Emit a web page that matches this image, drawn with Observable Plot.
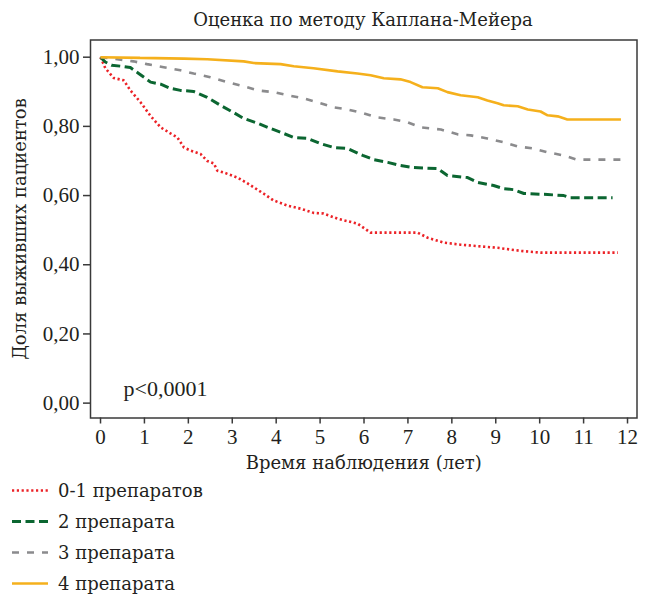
<!DOCTYPE html>
<html>
<head>
<meta charset="utf-8">
<script src="https://cdn.jsdelivr.net/npm/d3@7"></script>
<script src="https://cdn.jsdelivr.net/npm/@observablehq/plot@0.6"></script>
<style>
  body { margin: 0; background: #fff; }
  #wrap { position: relative; width: 653px; height: 596px; font-family: "DejaVu Serif", serif; color: #231f20; }
  #title { position: absolute; left: 90px; width: 546px; top: 7px; text-align: center; font-size: 18px; line-height: 26px; }
  #chart { position: absolute; left: 0; top: 30px; }
  #legend { position: absolute; left: 0; top: 474.5px; }
  .row { height: 31px; display: flex; align-items: center; font-size: 18px; }
  .row svg { display: block; }
  .row span { margin-left: 10px; }
</style>
</head>
<body>
<div id="wrap">
  <div id="title"></div>
  <div id="chart"></div>
  <div id="legend"></div>
</div>
<script>
const titleText = "Оценка по методу Каплана-Мейера";
const xTitle = "Время наблюдения (лет)";
const yTitle = "Доля выживших пациентов";
const pText = "p<0,0001";
const xTicks = [0, 1, 2, 3, 4, 5, 6, 7, 8, 9, 10, 11, 12];
const yTicks = [0, 0.2, 0.4, 0.6, 0.8, 1.0];

const seriesNames = ["0-1 препаратов", "2 препарата", "3 препарата", "4 препарата"];
const seriesColors = ["#ec2227", "#0b6631", "#8b8b8d", "#f5b01c"];
const seriesDash = ["2.2,2.6", "9,4.5", "7,8", null];
const seriesWidth = [2.6, 3, 2.6, 2.6];

const t01 = [0, 0.11, 0.3, 0.53, 0.68, 0.91, 1.14, 1.37, 1.59, 1.75, 1.9, 2.05, 2.28, 2.43, 2.58, 2.66, 2.8, 3.12, 3.35, 3.71, 3.94, 4.26, 4.56, 4.85, 5.08, 5.4, 5.85, 6.15, 7.22, 7.45, 7.82, 8.2, 9.04, 9.57, 10.02, 11.78];
const s01 = [1, 0.968, 0.94, 0.933, 0.904, 0.87, 0.83, 0.797, 0.78, 0.768, 0.739, 0.73, 0.72, 0.70, 0.693, 0.672, 0.667, 0.652, 0.635, 0.606, 0.586, 0.571, 0.562, 0.55, 0.548, 0.533, 0.519, 0.493, 0.493, 0.478, 0.464, 0.458, 0.449, 0.44, 0.435, 0.435];

const t2 = [0, 0.11, 0.25, 0.46, 0.68, 0.87, 1.14, 1.37, 1.59, 1.82, 2.12, 2.43, 2.73, 3.03, 3.26, 3.58, 3.87, 4.1, 4.4, 4.72, 5.01, 5.31, 5.63, 5.97, 6.22, 6.54, 6.83, 7.13, 7.68, 7.9, 8.36, 8.59, 8.95, 9.18, 9.41, 9.64, 10.18, 10.55, 10.7, 11.66];
const s2 = [1, 0.986, 0.977, 0.974, 0.97, 0.953, 0.928, 0.922, 0.91, 0.904, 0.901, 0.884, 0.861, 0.84, 0.823, 0.809, 0.794, 0.783, 0.768, 0.765, 0.75, 0.739, 0.736, 0.716, 0.704, 0.696, 0.687, 0.681, 0.678, 0.658, 0.652, 0.638, 0.629, 0.62, 0.617, 0.606, 0.603, 0.60, 0.594, 0.594];

const t3 = [0, 0.38, 0.75, 1.06, 1.44, 1.82, 2.12, 2.5, 2.89, 3.26, 3.58, 3.94, 4.26, 4.62, 5.01, 5.31, 5.62, 5.99, 6.3, 6.68, 6.99, 7.29, 7.75, 8.13, 8.43, 8.81, 9.18, 9.5, 9.86, 10.18, 10.55, 10.84, 11.89];
const s3 = [1, 0.994, 0.988, 0.98, 0.971, 0.962, 0.953, 0.942, 0.928, 0.916, 0.904, 0.899, 0.89, 0.881, 0.867, 0.855, 0.849, 0.838, 0.826, 0.82, 0.812, 0.797, 0.791, 0.777, 0.774, 0.765, 0.754, 0.742, 0.736, 0.725, 0.716, 0.704, 0.704];

const t4 = [0, 0.9, 1.9, 2.43, 3.26, 3.49, 4.1, 4.4, 4.85, 5.4, 5.85, 6.15, 6.45, 6.83, 7.06, 7.33, 7.68, 7.9, 8.2, 8.59, 8.81, 9.04, 9.18, 9.5, 9.73, 10.02, 10.18, 10.41, 10.63, 11.85];
const s4 = [1, 0.998, 0.996, 0.994, 0.988, 0.983, 0.98, 0.974, 0.968, 0.959, 0.953, 0.948, 0.939, 0.936, 0.928, 0.913, 0.91, 0.899, 0.89, 0.884, 0.875, 0.867, 0.861, 0.858, 0.849, 0.843, 0.832, 0.829, 0.82, 0.82];

const seriesT = [t01, t2, t3, t4];
const seriesS = [s01, s2, s3, s4];

const LATIN = "'Liberation Serif', serif";
const CYR = "'DejaVu Serif', serif";

document.getElementById("title").textContent = titleText;

const fmt = d => d.toFixed(2).replace(".", ",");

const lineMarks = seriesNames.map((name, i) => {
  const rows = seriesT[i].map((t, j) => ({t, s: seriesS[i][j]}));
  return Plot.line(rows, {
    x: "t", y: "s",
    stroke: seriesColors[i],
    strokeWidth: seriesWidth[i],
    strokeDasharray: seriesDash[i] || undefined,
    strokeLinecap: "butt",
    strokeLinejoin: "miter"
  });
});

const chart = Plot.plot({
  width: 653,
  height: 450,
  marginTop: 9.5,
  marginBottom: 62.5,
  marginLeft: 90,
  marginRight: 16.5,
  style: { fontFamily: LATIN, fontSize: "21px", color: "#231f20", background: "white", overflow: "visible" },
  x: { domain: [-0.228, 12.216] },
  y: { domain: [-0.043, 1.0497] },
  marks: [
    Plot.frame({ stroke: "#3a3a3a", strokeWidth: 1.5 }),
    Plot.axisX({ ticks: xTicks, tickSize: 6, tickPadding: 5, tickFormat: d => String(d), label: null, stroke: "#3a3a3a", strokeWidth: 1.5 }),
    Plot.axisX({ ticks: [], label: xTitle, labelAnchor: "center", labelOffset: 51, labelArrow: false, fontSize: 18, fontFamily: CYR }),
    Plot.axisY({ ticks: yTicks, tickSize: 7, tickPadding: 4, tickFormat: fmt, label: null, stroke: "#3a3a3a", strokeWidth: 1.5 }),
    Plot.axisY({ ticks: [], label: yTitle, labelAnchor: "center", labelOffset: 77, labelArrow: false, fontSize: 18, fontFamily: CYR }),
    ...lineMarks,
    Plot.text([pText], { frameAnchor: "bottom-left", dx: 33, dy: -29, textAnchor: "start", lineAnchor: "middle", fontSize: 22, fill: "#231f20" })
  ]
});
document.getElementById("chart").appendChild(chart);

const legend = d3.select("#legend");
seriesNames.forEach((name, i) => {
  const row = legend.append("div").attr("class", "row");
  const svg = row.append("svg").attr("width", 48).attr("height", 31);
  svg.append("line")
    .attr("x1", 12).attr("x2", 48).attr("y1", 15.5).attr("y2", 15.5)
    .attr("stroke", seriesColors[i])
    .attr("stroke-width", seriesWidth[i])
    .attr("stroke-dasharray", seriesDash[i]);
  row.append("span").text(name);
});
</script>
</body>
</html>
